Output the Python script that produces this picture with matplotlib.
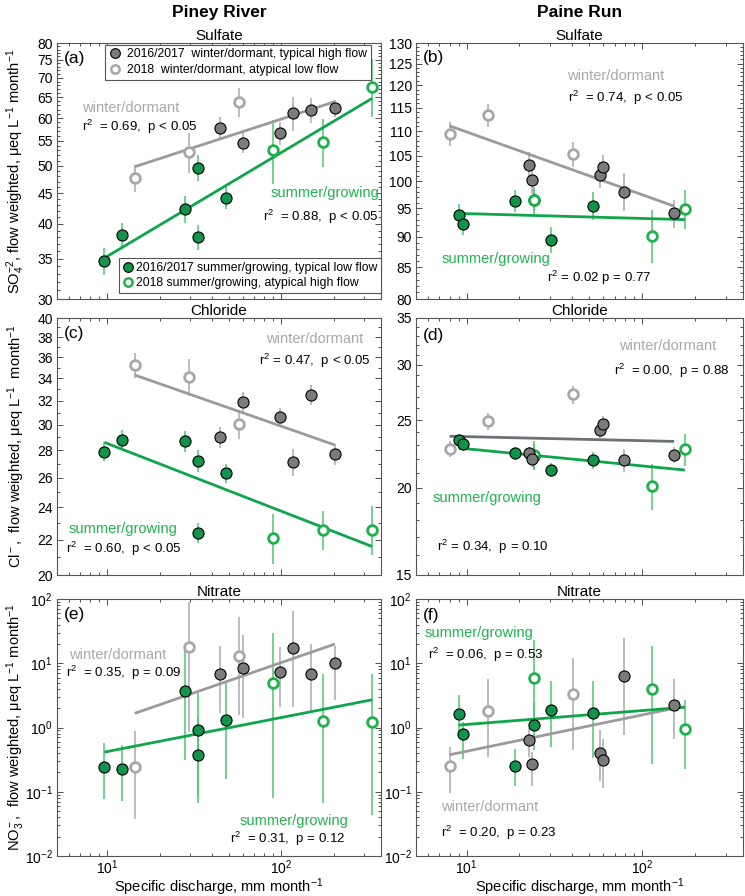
import numpy as np
import matplotlib
matplotlib.use('Agg')
import matplotlib.pyplot as plt
from matplotlib.lines import Line2D
from matplotlib.ticker import FixedLocator, MultipleLocator, FuncFormatter, NullFormatter, LogLocator

plt.rcParams.update({'font.family': ['Liberation Sans', 'DejaVu Sans'],
                     'mathtext.fontset': 'custom',
                     'mathtext.rm': 'Liberation Sans',
                     'mathtext.it': 'Liberation Sans:italic',
                     'mathtext.bf': 'Liberation Sans:bold',
                     'font.size': 9})

# ---------------- data ----------------
# specific discharge, mm month-1
pr_q_wt = [44.6, 60.6, 98.6, 117.7, 149.4, 203.7]   # Piney, 2016/2017 winter
pr_q_wa = [14.4, 29.6, 57.1]                        # Piney, 2018 winter
pr_q_st = [9.65, 12.2, 28.1, 33.2, 33.5, 47.9]      # Piney, 2016/2017 summer
pr_q_sa = [89.5, 173.8, 333.0]                      # Piney, 2018 summer
pa_q_wt = [22.8, 23.5, 57.5, 59.8, 78.3, 152.0]     # Paine, 2016/2017 winter
pa_q_wa = [8.0, 13.2, 40.5]
pa_q_st = [9.0, 9.58, 18.9, 24.3, 30.4, 52.8]
pa_q_sa = [24.3, 113.5, 175.0]

# sulfate (a) Piney River
so4_pr_wt = [57.8, 54.6, 56.7, 61.1, 61.9, 62.3]
so4_pr_wt_err = [2.5, 2.2, 2.5, 4.0, 3.0, 2.0]
so4_pr_wa = [47.7, 52.7, 63.8]
so4_pr_wa_err = [2.5, 4.0, 3.5]
so4_pr_st = [34.7, 38.3, 42.4, 49.6, 38.0, 44.2]
so4_pr_st_err = [1.8, 1.8, 2.2, 2.5, 1.8, 1.8]
so4_pr_sa = [53.1, 54.8, 67.7]
so4_pr_sa_err = [6.5, 5.0, 7.5]
so4_pr_fit_w = [49.8, 63.9]
so4_pr_fit_s = [35.1, 64.7]

# sulfate (b) Paine Run
so4_pa_wt = [103.2, 100.2, 101.2, 102.7, 98.0, 94.1]
so4_pa_wt_err = [2.5, 2.5, 2.5, 2.5, 3.5, 2.5]
so4_pa_wa = [109.4, 113.3, 105.3]
so4_pa_wa_err = [2.5, 2.5, 2.5]
so4_pa_st = [93.8, 92.3, 96.3, 96.5, 89.5, 95.5]
so4_pa_st_err = [2.0, 2.0, 2.0, 2.0, 2.2, 2.5]
so4_pa_sa = [96.5, 90.2, 94.9]
so4_pa_sa_err = [2.5, 4.5, 3.5]
so4_pa_fit_w = [111.1, 95.4]
so4_pa_fit_s = [94.1, 93.0]

# chloride (c) Piney River
cl_pr_wt = [29.0, 31.9, 30.6, 27.1, 32.5, 27.7]
cl_pr_wt_err = [0.8, 0.9, 0.8, 1.0, 0.9, 0.8]
cl_pr_wa = [35.2, 34.1, 30.05]
cl_pr_wa_err = [1.2, 1.7, 1.2]
cl_pr_st = [27.9, 28.8, 28.7, 27.2, 22.4, 26.3]
cl_pr_st_err = [0.7, 0.8, 0.8, 0.8, 0.6, 0.7]
cl_pr_sa = [22.1, 22.6, 22.6]
cl_pr_sa_err = [1.5, 1.2, 1.5]
cl_pr_fit_w = [34.3, 28.4]
cl_pr_fit_s = [28.6, 21.6]

# chloride (d) Paine Run
cl_pa_wt = [22.4, 22.0, 24.2, 24.7, 21.9, 22.3]
cl_pa_wt_err = [0.5, 0.6, 0.6, 0.6, 0.8, 0.6]
cl_pa_wa = [22.7, 24.9, 27.2]
cl_pa_wa_err = [0.6, 0.7, 0.8]
cl_pa_st = [23.4, 23.1, 22.4, 22.2, 21.2, 21.9]
cl_pa_st_err = [0.5, 0.5, 0.5, 1.0, 0.5, 0.6]
cl_pa_sa = [22.3, 20.1, 22.7]
cl_pa_sa_err = [1.0, 1.5, 1.2]
cl_pa_fit_w = [23.7, 23.3]
cl_pa_fit_s = [22.8, 21.2]

# nitrate (e) Piney River, value with lower / upper bound
no3_pr_wt = [6.7, 8.3, 7.3, 17.2, 6.7, 10.0]
no3_pr_wt_lo = [1.66, 1.39, 2.07, 2.1, 1.77, 2.7]
no3_pr_wt_hi = [18.6, 27.8, 18.0, 65.0, 19.9, 18.6]
no3_pr_wa = [0.247, 18.2, 13.0]
no3_pr_wa_lo = [0.038, 0.855, 1.57]
no3_pr_wa_hi = [0.88, 89.0, 52.0]
no3_pr_st = [0.24, 0.226, 3.65, 0.91, 0.367, 1.29]
no3_pr_st_lo = [0.076, 0.072, 0.307, 0.068, 0.09, 0.157]
no3_pr_st_hi = [0.574, 0.53, 16.5, 3.4, 1.5, 4.9]
no3_pr_sa = [4.88, 1.26, 1.23]
no3_pr_sa_lo = [0.08, 0.068, 0.043]
no3_pr_sa_hi = [30.0, 6.7, 6.8]
no3_pr_fit_w = [1.66, 19.9]
no3_pr_fit_s = [0.414, 2.70]

# nitrate (f) Paine Run
no3_pa_wt = [0.65, 0.268, 0.40, 0.313, 6.4, 2.2]
no3_pa_wt_lo = [0.35, 0.124, 0.148, 0.116, 0.76, 0.67]
no3_pa_wt_hi = [1.0, 0.41, 0.91, 0.67, 25.0, 5.6]
no3_pa_wa = [0.25, 1.81, 3.36]
no3_pa_wa_lo = [0.097, 0.35, 0.44]
no3_pa_wa_hi = [0.50, 5.6, 12.2]
no3_pa_st = [1.63, 0.78, 0.252, 1.09, 1.88, 1.66]
no3_pa_st_lo = [0.76, 0.325, 0.124, 0.45, 0.5, 0.33]
no3_pa_st_hi = [3.2, 1.23, 0.47, 2.5, 5.2, 5.2]
no3_pa_sa = [5.9, 4.03, 0.94]
no3_pa_sa_lo = [1.1, 0.27, 0.226]
no3_pa_sa_hi = [23.0, 18.6, 2.7]
no3_pa_fit_w = [0.376, 1.99]
no3_pa_fit_s = [1.09, 2.07]

# ---------------- styles ----------------
c_dgray = '#7b7b7b'
c_lgray = '#a8a8a8'
c_gfill = '#11934a'
c_gopen = '#1fb24c'
c_gerr = '#4dc673'
c_gerr_gray = '#a9a9a9'
c_fit_g = '#0fa54b'
c_fit_w = '#9b9b9b'
c_txt_g = '#22b34e'
c_txt_w = '#a8a8a8'
XLIM = (5.15, 375)


def bounds(y, lo=None, hi=None, err=None):
    y = np.asarray(y, float)
    if err is not None:
        e = np.asarray(err, float)
        return [e, e]
    return [y - np.asarray(lo, float), np.asarray(hi, float) - y]


def draw_group(ax, x, y, yerr, kind):
    if kind in ('st', 'sa'):
        ecol = c_gerr
    else:
        ecol = c_gerr_gray
    ax.errorbar(x, y, yerr=yerr, fmt='none', ecolor=ecol, elinewidth=1.1, capsize=0, zorder=1)
    if kind == 'st':
        ax.plot(x, y, 'o', ms=8, mfc=c_gfill, mec='black', mew=0.8, zorder=3)
    elif kind == 'sa':
        ax.plot(x, y, 'o', ms=7, mfc='white', mec=c_gopen, mew=2.0, zorder=3.5)
    elif kind == 'wt':
        ax.plot(x, y, 'o', ms=8, mfc=c_dgray, mec='black', mew=0.8, zorder=4)
    else:
        ax.plot(x, y, 'o', ms=7, mfc='white', mec=c_lgray, mew=2.0, zorder=4)


def draw_fit(ax, xs, vals, color):
    xx = np.concatenate([np.asarray(v, float) for v in xs])
    ax.plot([xx.min(), xx.max()], vals, color=color, lw=2.0, solid_capstyle='butt', zorder=2)


def setup(ax, ylim, major=None, minor=None, bottom_labels=False):
    ax.set_xscale('log')
    ax.set_yscale('log')
    ax.set_xlim(XLIM)
    ax.set_ylim(ylim)
    if major is not None:
        ax.yaxis.set_major_locator(FixedLocator(major))
        ax.yaxis.set_major_formatter(FuncFormatter(lambda v, p: '%g' % v))
        ax.yaxis.set_minor_locator(MultipleLocator(minor))
    else:
        ax.yaxis.set_major_locator(LogLocator(base=10, numticks=10))
        ax.yaxis.set_minor_locator(LogLocator(base=10, subs=np.arange(2, 10), numticks=20))
    ax.yaxis.set_minor_formatter(NullFormatter())
    ax.xaxis.set_minor_formatter(NullFormatter())
    ax.tick_params(which='both', direction='in', top=True, right=True, width=0.6,
                   color='#333333', labelsize=10, pad=3)
    ax.tick_params(which='major', length=4)
    ax.tick_params(which='minor', length=2)
    ax.tick_params(axis='x', labelbottom=bottom_labels, pad=2)
    for s in ax.spines.values():
        s.set_color('#555555')
        s.set_linewidth(0.8)


def txt(ax, x, y, s, color='black', ha='left', size=9.5):
    ax.text(x, y, s, transform=ax.transAxes, color=color, ha=ha, va='center', fontsize=size)


fig = plt.figure(figsize=(7.45, 8.96), dpi=100)
lx, lw_ = 57 / 745, 324 / 745
rx, rw_ = 416 / 745, 327 / 745
rows = [(1 - 299 / 896, 256 / 896), (1 - 575 / 896, 257 / 896), (1 - 856 / 896, 257 / 896)]

ax_a = fig.add_axes([lx, rows[0][0], lw_, rows[0][1]])
ax_b = fig.add_axes([rx, rows[0][0], rw_, rows[0][1]])
ax_c = fig.add_axes([lx, rows[1][0], lw_, rows[1][1]])
ax_d = fig.add_axes([rx, rows[1][0], rw_, rows[1][1]])
ax_e = fig.add_axes([lx, rows[2][0], lw_, rows[2][1]])
ax_f = fig.add_axes([rx, rows[2][0], rw_, rows[2][1]])

setup(ax_a, (30, 80), np.arange(30, 81, 5), 1)
setup(ax_b, (80, 130), np.arange(80, 131, 5), 1)
setup(ax_c, (20, 40), np.arange(20, 41, 2), 1)
setup(ax_d, (15, 35), np.arange(15, 36, 5), 1)
setup(ax_e, (1e-2, 1e2), bottom_labels=True)
setup(ax_f, (1e-2, 1e2), bottom_labels=True)

# (a)
ax = ax_a
draw_group(ax, pr_q_st, so4_pr_st, bounds(so4_pr_st, err=so4_pr_st_err), 'st')
draw_group(ax, pr_q_sa, so4_pr_sa, bounds(so4_pr_sa, err=so4_pr_sa_err), 'sa')
draw_group(ax, pr_q_wt, so4_pr_wt, bounds(so4_pr_wt, err=so4_pr_wt_err), 'wt')
draw_group(ax, pr_q_wa, so4_pr_wa, bounds(so4_pr_wa, err=so4_pr_wa_err), 'wa')
draw_fit(ax, [pr_q_wt, pr_q_wa], so4_pr_fit_w, c_fit_w)
draw_fit(ax, [pr_q_st, pr_q_sa], so4_pr_fit_s, c_fit_g)
txt(ax, 0.077, 0.746, 'winter/dormant', c_txt_w, size=10.5)
txt(ax, 0.077, 0.673, 'r$^2$  = 0.69,  p < 0.05')
txt(ax, 0.994, 0.413, 'summer/growing', c_txt_g, ha='right', size=10.5)
txt(ax, 0.991, 0.321, 'r$^2$  = 0.88,  p < 0.05', ha='right')
h1 = [Line2D([], [], ls='none', marker='o', ms=7, mfc=c_dgray, mec='black', mew=0.8),
      Line2D([], [], ls='none', marker='o', ms=6, mfc='white', mec=c_lgray, mew=1.8)]
leg1 = ax.legend(h1, ['2016/2017  winter/dormant, typical high flow',
                      '2018  winter/dormant, atypical low flow'],
                 loc='upper right', bbox_to_anchor=(0.968, 0.993), fontsize=8.8,
                 fancybox=False, edgecolor='#555555', framealpha=1, handlelength=1.0,
                 handletextpad=0.5, borderpad=0.3, labelspacing=0.3, borderaxespad=0)
leg1.get_frame().set_linewidth(0.8)
ax.add_artist(leg1)
h2 = [Line2D([], [], ls='none', marker='o', ms=7, mfc=c_gfill, mec='black', mew=0.8),
      Line2D([], [], ls='none', marker='o', ms=6, mfc='white', mec=c_gopen, mew=1.8)]
leg2 = ax.legend(h2, ['2016/2017 summer/growing, typical low flow',
                      '2018 summer/growing, atypical high flow'],
                 loc='lower right', bbox_to_anchor=(1.0, 0.023), fontsize=8.8,
                 fancybox=False, edgecolor='#555555', framealpha=1, handlelength=0.8,
                 handletextpad=0.25, borderpad=0.3, labelspacing=0.3, borderaxespad=0)
leg2.get_frame().set_linewidth(0.8)

# (b)
ax = ax_b
draw_group(ax, pa_q_st, so4_pa_st, bounds(so4_pa_st, err=so4_pa_st_err), 'st')
draw_group(ax, pa_q_sa, so4_pa_sa, bounds(so4_pa_sa, err=so4_pa_sa_err), 'sa')
draw_group(ax, pa_q_wt, so4_pa_wt, bounds(so4_pa_wt, err=so4_pa_wt_err), 'wt')
draw_group(ax, pa_q_wa, so4_pa_wa, bounds(so4_pa_wa, err=so4_pa_wa_err), 'wa')
draw_fit(ax, [pa_q_wt, pa_q_wa], so4_pa_fit_w, c_fit_w)
draw_fit(ax, [pa_q_st, pa_q_sa], so4_pa_fit_s, c_fit_g)
txt(ax, 0.61, 0.871, 'winter/dormant', c_txt_w, ha='center', size=10.5)
txt(ax, 0.64, 0.784, 'r$^2$  = 0.74,  p < 0.05', ha='center')
txt(ax, 0.078, 0.155, 'summer/growing', c_txt_g, size=10.5)
txt(ax, 0.40, 0.081, 'r$^2$ = 0.02 p = 0.77')

# (c)
ax = ax_c
draw_group(ax, pr_q_st, cl_pr_st, bounds(cl_pr_st, err=cl_pr_st_err), 'st')
draw_group(ax, pr_q_sa, cl_pr_sa, bounds(cl_pr_sa, err=cl_pr_sa_err), 'sa')
draw_group(ax, pr_q_wt, cl_pr_wt, bounds(cl_pr_wt, err=cl_pr_wt_err), 'wt')
draw_group(ax, pr_q_wa, cl_pr_wa, bounds(cl_pr_wa, err=cl_pr_wa_err), 'wa')
draw_fit(ax, [pr_q_wt, pr_q_wa], cl_pr_fit_w, c_fit_w)
draw_fit(ax, [pr_q_st, pr_q_sa], cl_pr_fit_s, c_fit_g)
txt(ax, 0.945, 0.917, 'winter/dormant', c_txt_w, ha='right', size=10.5)
txt(ax, 0.968, 0.834, 'r$^2$ = 0.47,  p < 0.05', ha='right')
txt(ax, 0.035, 0.178, 'summer/growing', c_txt_g, size=10.5)
txt(ax, 0.028, 0.100, 'r$^2$  = 0.60,  p < 0.05')

# (d)
ax = ax_d
draw_group(ax, pa_q_st, cl_pa_st, bounds(cl_pa_st, err=cl_pa_st_err), 'st')
draw_group(ax, pa_q_sa, cl_pa_sa, bounds(cl_pa_sa, err=cl_pa_sa_err), 'sa')
draw_group(ax, pa_q_wt, cl_pa_wt, bounds(cl_pa_wt, err=cl_pa_wt_err), 'wt')
draw_group(ax, pa_q_wa, cl_pa_wa, bounds(cl_pa_wa, err=cl_pa_wa_err), 'wa')
draw_fit(ax, [pa_q_wt, pa_q_wa], cl_pa_fit_w, '#6b7175')
draw_fit(ax, [pa_q_st, pa_q_sa], cl_pa_fit_s, c_fit_g)
txt(ax, 0.917, 0.892, 'winter/dormant', c_txt_w, ha='right', size=10.5)
txt(ax, 0.957, 0.795, 'r$^2$  = 0.00,  p = 0.88', ha='right')
txt(ax, 0.051, 0.300, 'summer/growing', c_txt_g, size=10.5)
txt(ax, 0.063, 0.110, 'r$^2$ = 0.34,  p = 0.10')

# (e)
ax = ax_e
draw_group(ax, pr_q_st, no3_pr_st, bounds(no3_pr_st, no3_pr_st_lo, no3_pr_st_hi), 'st')
draw_group(ax, pr_q_sa, no3_pr_sa, bounds(no3_pr_sa, no3_pr_sa_lo, no3_pr_sa_hi), 'sa')
draw_group(ax, pr_q_wt, no3_pr_wt, bounds(no3_pr_wt, no3_pr_wt_lo, no3_pr_wt_hi), 'wt')
draw_group(ax, pr_q_wa, no3_pr_wa, bounds(no3_pr_wa, no3_pr_wa_lo, no3_pr_wa_hi), 'wa')
draw_fit(ax, [pr_q_wt, pr_q_wa], no3_pr_fit_w, c_fit_w)
draw_fit(ax, [pr_q_st, pr_q_sa], no3_pr_fit_s, c_fit_g)
txt(ax, 0.038, 0.784, 'winter/dormant', c_txt_w, size=10.5)
txt(ax, 0.028, 0.713, 'r$^2$  = 0.35,  p = 0.09')
txt(ax, 0.899, 0.136, 'summer/growing', c_txt_g, ha='right', size=10.5)
txt(ax, 0.889, 0.067, 'r$^2$  = 0.31,  p = 0.12', ha='right')

# (f)
ax = ax_f
draw_group(ax, pa_q_st, no3_pa_st, bounds(no3_pa_st, no3_pa_st_lo, no3_pa_st_hi), 'st')
draw_group(ax, pa_q_sa, no3_pa_sa, bounds(no3_pa_sa, no3_pa_sa_lo, no3_pa_sa_hi), 'sa')
draw_group(ax, pa_q_wt, no3_pa_wt, bounds(no3_pa_wt, no3_pa_wt_lo, no3_pa_wt_hi), 'wt')
draw_group(ax, pa_q_wa, no3_pa_wa, bounds(no3_pa_wa, no3_pa_wa_lo, no3_pa_wa_hi), 'wa')
draw_fit(ax, [pa_q_wt, pa_q_wa], no3_pa_fit_w, c_fit_w)
draw_fit(ax, [pa_q_st, pa_q_sa], no3_pa_fit_s, c_fit_g)
txt(ax, 0.025, 0.866, 'summer/growing', c_txt_g, size=10.5)
txt(ax, 0.038, 0.782, 'r$^2$  = 0.06,  p = 0.53')
txt(ax, 0.076, 0.191, 'winter/dormant', c_txt_w, size=10.5)
txt(ax, 0.076, 0.090, 'r$^2$  = 0.20,  p = 0.23')

# panel letters, titles
for a, lab, yy in [(ax_a, '(a)', 0.94), (ax_b, '(b)', 0.945), (ax_c, '(c)', 0.94),
                   (ax_d, '(d)', 0.93), (ax_e, '(e)', 0.94), (ax_f, '(f)', 0.935)]:
    a.text(0.022, yy, lab, transform=a.transAxes, fontsize=12.5, va='center', ha='left')
for a, t in [(ax_a, 'Sulfate'), (ax_b, 'Sulfate'), (ax_c, 'Chloride'),
             (ax_d, 'Chloride'), (ax_e, 'Nitrate'), (ax_f, 'Nitrate')]:
    a.set_title(t, fontsize=11, pad=2)

fig.text(lx + lw_ / 2, 0.986, 'Piney River', ha='center', va='center', fontsize=12.5, fontweight='bold')
fig.text(rx + rw_ / 2, 0.986, 'Paine Run', ha='center', va='center', fontsize=12.5, fontweight='bold')

ax_a.set_ylabel('SO$_4^{-2}$, flow weighted, \u03bceq L$^{-1}$ month$^{-1}$', fontsize=10.5)
ax_c.set_ylabel('Cl$^-$,  flow weighted, \u03bceq L$^{-1}$  month$^{-1}$', fontsize=10.5)
ax_e.set_ylabel('NO$_3^-$,  flow weighted, \u03bceq L$^{-1}$ month$^{-1}$', fontsize=10.5)
for a in (ax_a, ax_c, ax_e):
    a.yaxis.set_label_coords(-0.093, 0.5)
for a in (ax_e, ax_f):
    a.set_xlabel('Specific discharge, mm month$^{-1}$', fontsize=10.5, labelpad=-1)

fig.savefig('out.png', dpi=100)
